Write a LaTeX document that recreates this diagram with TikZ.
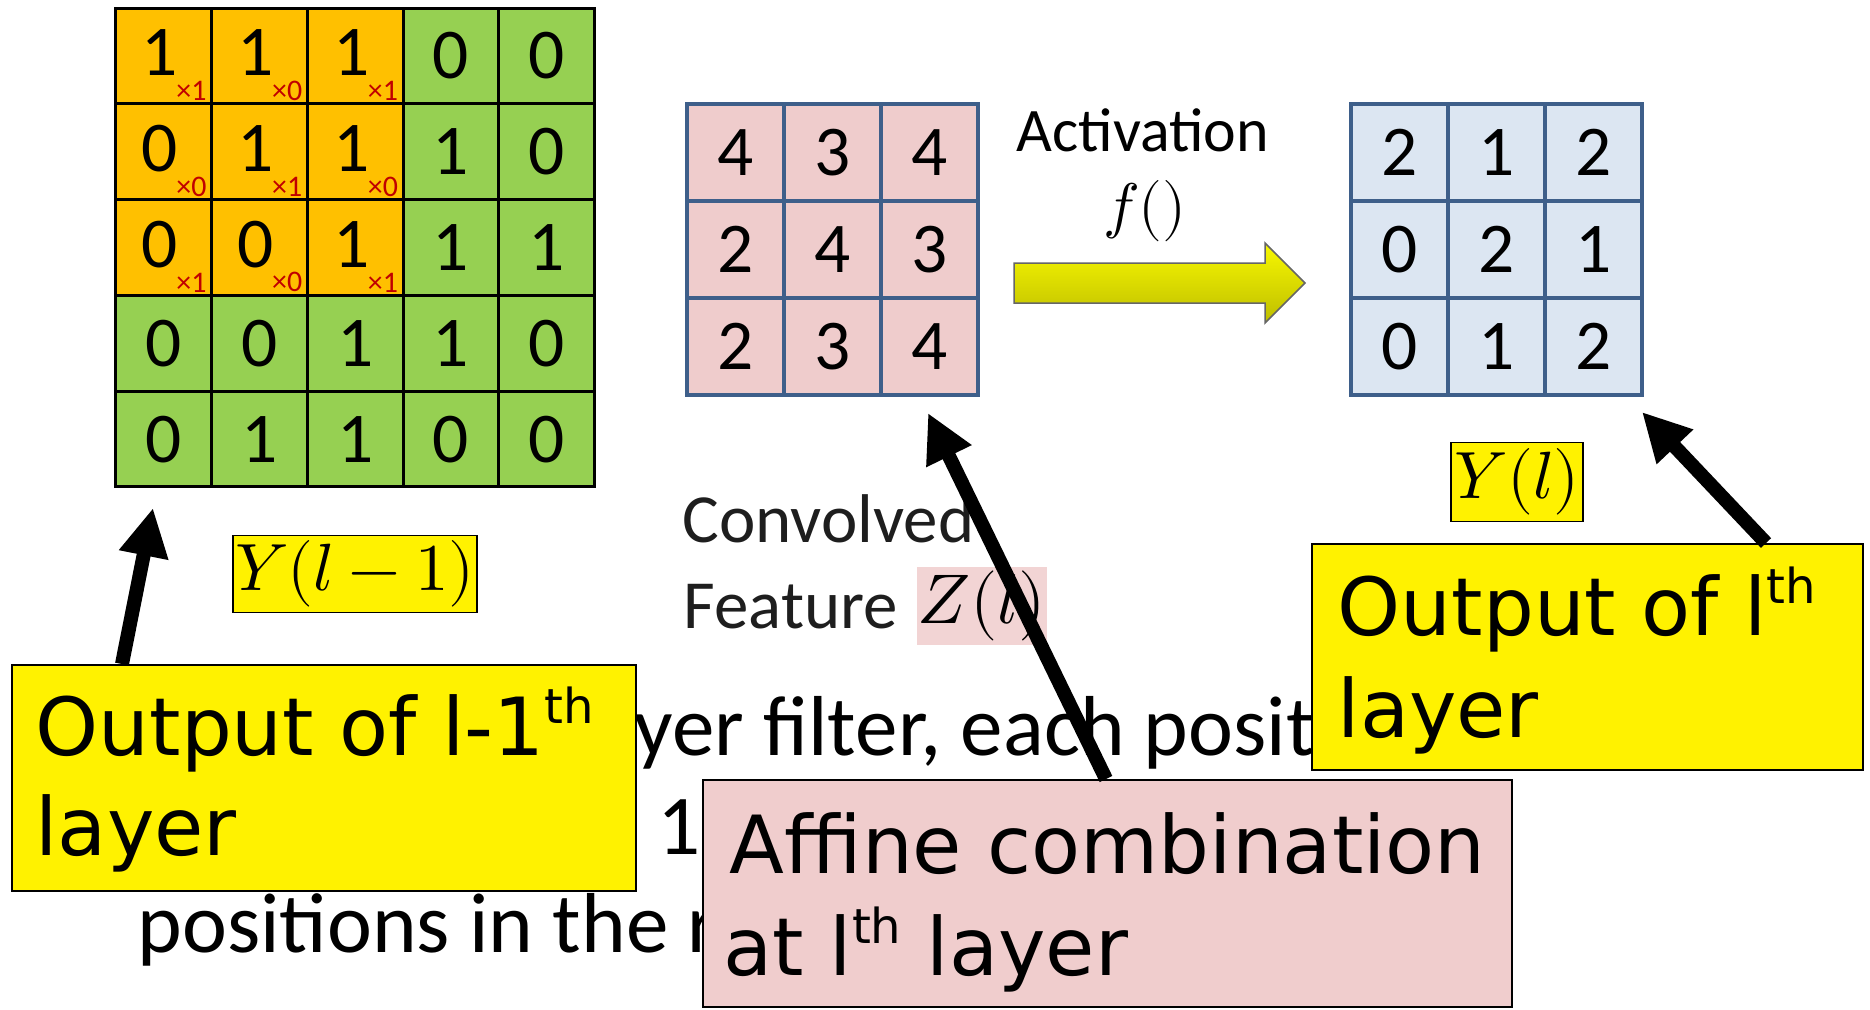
\documentclass[tikz,border=0pt]{standalone}
\usepackage{fontspec}
\usepackage{unicode-math}
\setmainfont{Carlito}
\setmathfont{Latin Modern Math}
\newfontfamily\comicfont{DejaVu Sans}
\usetikzlibrary{arrows.meta,calc}
\definecolor{gorange}{RGB}{255,192,0}
\definecolor{ggreen}{RGB}{150,208,82}
\definecolor{gridblue}{RGB}{62,95,138}
\definecolor{cpink}{RGB}{239,204,204}
\definecolor{cblue}{RGB}{220,230,242}
\definecolor{zpink}{RGB}{242,212,212}
\definecolor{kred}{RGB}{192,0,0}
\definecolor{apink}{RGB}{240,205,205}
\definecolor{ayellowtop}{RGB}{248,248,0}
\definecolor{ayellowbot}{RGB}{190,190,0}
\definecolor{convgray}{RGB}{30,30,30}
\newcommand\supth{\raisebox{9.1pt}{\fontsize{13.7}{14}\selectfont th}}
\begin{document}
\begin{tikzpicture}[x=0.01cm,y=-0.01cm,
  gcell/.style={draw=black, line width=0.03cm, minimum size=0.957cm, inner sep=0pt},
  gdigit/.style={inner sep=0pt, font=\fontsize{20.3}{24}\selectfont},
  pcell/.style={draw=gridblue, line width=0.04cm, fill=cpink, minimum size=0.97cm, inner sep=0pt,
    font=\fontsize{20.3}{24}\selectfont},
  bcell/.style={pcell, fill=cblue},
  kernlab/.style={text=kred, font=\fontsize{8.5}{9}\selectfont, inner sep=0pt, anchor=south east},
  lbox/.style={draw=black, line width=0.015cm, inner sep=0pt, anchor=north west},
  mbox/.style={draw=black, line width=0.015cm, fill=yellow, inner sep=0pt},
  comictext/.style={font=\comicfont\fontsize{22.8}{28.7}\selectfont, anchor=base west, inner sep=0pt},
  bodytext/.style={font=\fontsize{24.2}{29}\selectfont, anchor=base west, inner sep=0pt},
  bigarrow/.style={line width=0.14cm, -{Triangle[length=0.48cm,width=0.47cm]}}
]
\useasboundingbox (0,0) rectangle (1870,1009);

% ---------- input grid 5x5 ----------
\foreach \row [count=\j from 0] in {{1,1,1,0,0},{0,1,1,1,0},{0,0,1,1,1},{0,0,1,1,0},{0,1,1,0,0}}{
  \foreach \v [count=\i from 0] in \row {
    \pgfmathtruncatemacro\isor{(\i<3)&&(\j<3)}
    \ifnum\isor=1 \def\cc{gorange}\def\dx{-4}\def\dy{-3}\else\def\cc{ggreen}\def\dx{0}\def\dy{0}\fi
    \coordinate (gc-\j-\i) at ({116+95.7*(\i+0.5)},{8+95.8*(\j+0.5)});
    \node[gcell, fill=\cc] (g-\j-\i) at (gc-\j-\i) {};
    \node[gdigit] (gv-\j-\i) at ($(gc-\j-\i)+(\dx,\dy)$) {\v};
  }
}
\foreach \row [count=\j from 0] in {{1,0,1},{0,1,0},{1,0,1}}{
  \foreach \k [count=\i from 0] in \row {
    \node[kernlab, xshift=-0.06cm, yshift=0.04cm] (k-\j-\i) at (g-\j-\i.south east) {×\k};
  }
}

% ---------- convolved feature 3x3 ----------
\foreach \row [count=\j from 0] in {{4,3,4},{2,4,3},{2,3,4}}{
  \foreach \v [count=\i from 0] in \row {
    \node[pcell] (p-\j-\i) at ({687+97*(\i+0.5)},{104+97*(\j+0.5)}) {\v};
  }
}

% ---------- output 3x3 ----------
\foreach \row [count=\j from 0] in {{2,1,2},{0,2,1},{0,1,2}}{
  \foreach \v [count=\i from 0] in \row {
    \node[bcell] (b-\j-\i) at ({1351+97*(\i+0.5)},{104+97*(\j+0.5)}) {\v};
  }
}

% ---------- activation ----------
\node[anchor=base west, inner sep=0pt, font=\fontsize{17.6}{21}\selectfont] (act) at (1016,151) {Activation};
\node[inner sep=0pt, font=\fontsize{17.5}{20}\selectfont] (fx) at (1145,211) {$f()$};
\draw[draw=black!60, line width=0.015cm, top color=ayellowtop, bottom color=ayellowbot]
  (1014,263) -- (1265,263) -- (1265,243) -- (1305,283) -- (1265,323) -- (1265,303) -- (1014,303) -- cycle;

% ---------- labels ----------
\node[anchor=base west, inner sep=0pt, text=convgray, font=\fontsize{19.6}{24}\selectfont] (conv) at (682,542) {Convolved};
\node[anchor=base west, inner sep=0pt, text=convgray, font=\fontsize{19.6}{24}\selectfont] (feat) at (683,628) {Feature};
\node[fill=zpink, minimum width=1.30cm, minimum height=0.77cm, inner sep=0pt, font=\fontsize{20}{24}\selectfont] (zl) at (982,606) {$Z(l)$};
\node[mbox, minimum width=2.44cm, minimum height=0.77cm, font=\fontsize{19}{23}\selectfont] (yl1) at (355,574) {$Y(l-1)$};
\node[mbox, minimum width=1.32cm, minimum height=0.79cm, font=\fontsize{19}{23}\selectfont] (yl) at (1517,482) {$Y(l)$};

% ---------- body text (partly hidden) ----------
\node[bodytext] (body1) at (634,755) {yer filter, each posit};
\node[bodytext] (body2) at (657,854) {1};
\node[bodytext] (body3) at (137,952) {positions in the r};

% ---------- callout boxes ----------
\node[lbox, fill=yellow, minimum width=6.24cm, minimum height=2.26cm] (out1) at (11,664) {};
\node[comictext] (out1a) at (35,755) {Output of l-1\supth};
\node[comictext] (out1b) at (35,855) {layer};

\node[lbox, fill=yellow, minimum width=5.51cm, minimum height=2.26cm] (out2) at (1311,543) {};
\node[comictext] (out2a) at (1337,635) {Output of l\supth};
\node[comictext] (out2b) at (1337,737) {layer};

\node[lbox, fill=apink, minimum width=8.09cm, minimum height=2.27cm] (aff) at (702,779) {};
\node[comictext] (affa) at (729,873) {Affine combination};
\node[comictext] (affb) at (723,975) {at l\supth{} layer};

% ---------- black arrows ----------
\coordinate (tip1) at (153,508);
\coordinate (tip2) at (928,413);
\coordinate (tip3) at (1642,412);
\draw[bigarrow] ($(out1.north west)+(111,0)$) -- (tip1);
\draw[bigarrow] ($(aff.north west)+(404,0)$) -- (tip2);
\draw[bigarrow] ($(out2.north west)+(455,0)$) -- (tip3);
\end{tikzpicture}
\end{document}
